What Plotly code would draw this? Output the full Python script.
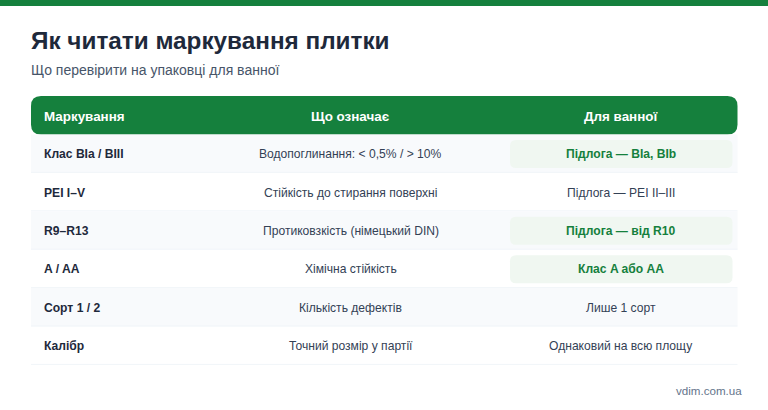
import plotly.graph_objects as go

# ---- дані таблиці ----
title = "Як читати маркування плитки"
subtitle = "Що перевірити на упаковці для ванної"
source = "vdim.com.ua"
headers = ["Маркування", "Що означає", "Для ванної"]
marks = ["Клас BIa / BIII", "PEI I–V", "R9–R13", "A / AA", "Сорт 1 / 2", "Калібр"]
meanings = ["Водопоглинання: < 0,5% / > 10%", "Стійкість до стирання поверхні",
            "Протиковзкість (німецький DIN)", "Хімічна стійкість",
            "Кількість дефектів", "Точний розмір у партії"]
bathroom = ["Підлога — BIa, BIb", "Підлога — PEI II–III", "Підлога — від R10",
            "Клас A або AA", "Лише 1 сорт", "Однаковий на всю площу"]
highlighted = [True, False, True, True, False, False]

# ---- розміри ----
W, H = 768, 410
FONT = "Liberation Sans"
GREEN = "#15803d"
LEFT, RIGHT = 31, 737.5
HEAD_TOP, HEAD_BOT = 96, 134.5
ROW_H = 38.4
COL_X = [41.5, 350.5, 621]


def rounded(x0, y0, x1, y1, r, color):
    path = (f"M{x0+r},{y0} L{x1-r},{y0} Q{x1},{y0} {x1},{y0+r} L{x1},{y1-r} Q{x1},{y1} {x1-r},{y1} "
            f"L{x0+r},{y1} Q{x0},{y1} {x0},{y1-r} L{x0},{y0+r} Q{x0},{y0} {x0+r},{y0} Z")
    return dict(type="path", path=path, fillcolor=color, line_width=0, layer="below")


def label(x, y, text, size, color, anchor="center", bold=False):
    return dict(x=x, y=y, text=f"<b>{text}</b>" if bold else text, showarrow=False, xanchor=anchor,
                yanchor="middle", font=dict(family=FONT, size=size, color=color))


shapes = [dict(type="rect", x0=0, x1=W, y0=0, y1=6, fillcolor=GREEN, line_width=0, layer="below"),
          rounded(LEFT, HEAD_TOP, RIGHT, HEAD_BOT, 10, GREEN)]
annotations = [label(28.5, 40.5, title, 24.3, "#1e293b", "left", True),
               label(29, 70, subtitle, 14, "#475569", "left"),
               label(744, 390.5, source, 11.6, "#64748b", "right")]

for x, h, a in zip(COL_X, headers, ["left", "center", "center"]):
    annotations.append(label(x, 116, h, 13.4, "#ffffff", a, True))

for i in range(len(marks)):
    top = HEAD_BOT + i * ROW_H
    bot = top + ROW_H
    mid = top + ROW_H / 2 + 0.5
    if i % 2 == 0:
        shapes.append(dict(type="rect", x0=LEFT, x1=RIGHT, y0=top, y1=bot, fillcolor="#f8fafc",
                           line_width=0, layer="below"))
    shapes.append(dict(type="line", x0=LEFT, x1=RIGHT, y0=bot - 0.5, y1=bot - 0.5,
                       line=dict(color="#f1f5f9", width=1), layer="below"))
    if highlighted[i]:
        shapes.append(rounded(510, top + 5.5, 732.5, top + 33.5, 6, "#f0f7f1"))
    annotations.append(label(COL_X[0], mid, marks[i], 12.1, "#1e293b", "left", True))
    annotations.append(label(COL_X[1], mid, meanings[i], 12.1, "#334155"))
    if highlighted[i]:
        annotations.append(label(COL_X[2], mid, bathroom[i], 12.1, GREEN, bold=True))
    else:
        annotations.append(label(COL_X[2], mid, bathroom[i], 12.1, "#334155"))

fig = go.Figure()
fig.update_layout(
    width=W, height=H, margin=dict(l=0, r=0, t=0, b=0),
    paper_bgcolor="white", plot_bgcolor="white", showlegend=False,
    xaxis=dict(visible=False, range=[0, W], fixedrange=True),
    yaxis=dict(visible=False, range=[H, 0], fixedrange=True),
    shapes=shapes, annotations=annotations,
)
# прибираємо типовий відступ body, щоб сторінка починалась з 0,0
fig.write_html("out.html", config={"displayModeBar": False},
               post_script="document.body.style.margin='0';document.documentElement.style.overflow='hidden';")
